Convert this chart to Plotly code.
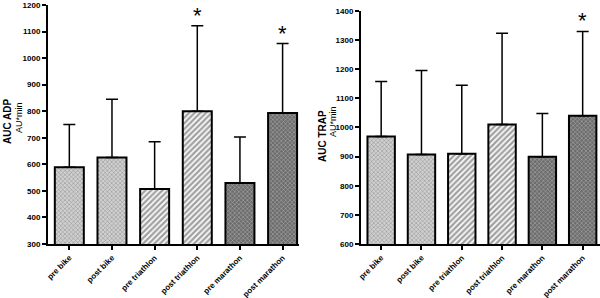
import plotly.graph_objects as go

categories = ["pre bike", "post bike", "pre triathlon", "post triathlon", "pre marathon", "post marathon"]
adp_mean = [589, 626, 507, 800, 530, 793]
adp_sd = [161, 219, 178, 322, 173, 262]
trap_mean = [969, 907, 910, 1010, 900, 1040]
trap_sd = [189, 289, 235, 314, 148, 290]
adp_sig = [False, False, False, True, False, True]
trap_sig = [False, False, False, False, False, True]

bg_colors = ["#d0d0d0", "#d0d0d0", "#ffffff", "#ffffff", "#6c6c6c", "#6c6c6c"]
fg_colors = ["#8c8c8c", "#8c8c8c", "#000000", "#000000", "#303030", "#303030"]
shapes = ["x", "x", "/", "/", "x", "x"]
sizes = [3, 3, 4, 4, 3, 3]
solid = [0.3, 0.3, 0.6, 0.6, 0.3, 0.3]

FONT = "Liberation Sans, Arial, sans-serif"

fig = go.Figure()


def add_bars(mean, sd, xa, ya):
    fig.add_trace(go.Bar(
        x=list(range(len(categories))), y=mean, xaxis=xa, yaxis=ya,
        width=0.68,
        marker=dict(
            color=bg_colors,
            line=dict(color="black", width=2),
            pattern=dict(shape=shapes, fgcolor=fg_colors,
                         size=sizes, solidity=solid, fillmode="overlay"),
        ),
        error_y=dict(type="data", symmetric=False, array=sd,
                     arrayminus=[0] * len(sd), color="black", thickness=1.5, width=6),
        showlegend=False, hoverinfo="skip",
    ))


add_bars(adp_mean, adp_sd, "x", "y")
add_bars(trap_mean, trap_sd, "x2", "y2")

for i, s in enumerate(adp_sig):
    if s:
        fig.add_annotation(x=i, y=adp_mean[i] + adp_sd[i], xref="x", yref="y",
                           text="*", showarrow=False, yanchor="bottom", yshift=-4,
                           font=dict(family=FONT, size=22, color="black"))
for i, s in enumerate(trap_sig):
    if s:
        fig.add_annotation(x=i, y=trap_mean[i] + trap_sd[i], xref="x2", yref="y2",
                           text="*", showarrow=False, yanchor="bottom", yshift=-4,
                           font=dict(family=FONT, size=22, color="black"))

axis_common = dict(showline=True, linecolor="black", linewidth=2, showgrid=False,
                   zeroline=False, ticks="outside", ticklen=4, tickwidth=1.5,
                   tickcolor="black", automargin=False,
                   tickfont=dict(family=FONT, size=8, color="black", weight="bold"))

fig.update_layout(
    width=600, height=298, margin=dict(l=0, r=0, t=0, b=0, autoexpand=False),
    paper_bgcolor="white", plot_bgcolor="white",
    xaxis=dict(domain=[0.08, 0.498], range=[-0.5, 5.38], tickmode="array",
               tickvals=list(range(6)), ticktext=categories, tickangle=-45,
               anchor="y", **axis_common),
    yaxis=dict(domain=[0.1812, 0.9832], range=[300, 1200], dtick=100,
               anchor="x", **axis_common),
    xaxis2=dict(domain=[0.6017, 1.0], range=[-0.5, 5.43], tickmode="array",
                tickvals=list(range(6)), ticktext=categories, tickangle=-45,
                anchor="y2", **axis_common),
    yaxis2=dict(domain=[0.1812, 0.9631], range=[600, 1400], dtick=100,
                anchor="x2", **axis_common),
)

# y-axis titles
def ytitle(px, py, text, size):
    fig.add_annotation(x=px / 600, y=1 - py / 298, xref="paper", yref="paper", text=text,
                       textangle=-90, showarrow=False, xanchor="center", yanchor="middle",
                       font=dict(family=FONT, size=size, color="black"))


ytitle(7, 121, "<b>AUC ADP</b>", 10)
ytitle(19, 118, "AU*min", 9)
ytitle(322, 136, "<b>AUC TRAP</b>", 10)
ytitle(333, 122, "AU*min", 9)

fig.write_html("out.html", config={"displayModeBar": False},
               post_script="document.body.style.margin='0px';")
